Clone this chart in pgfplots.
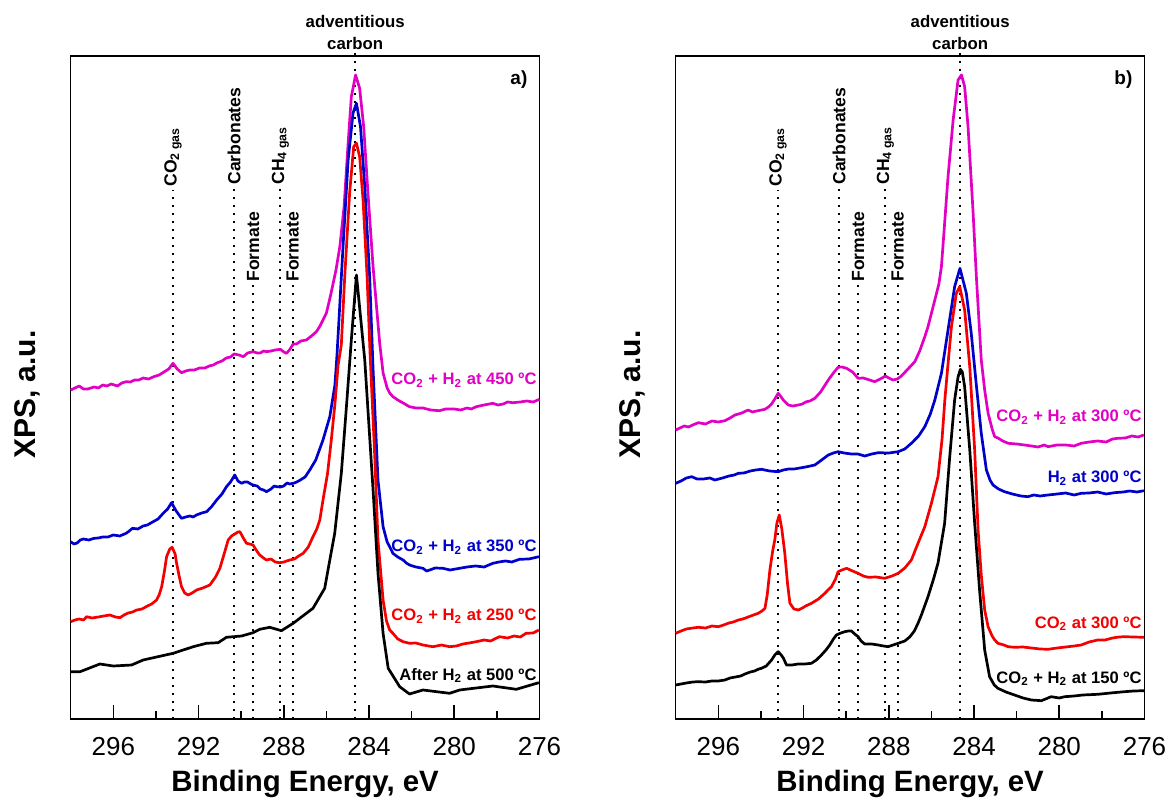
\documentclass[border=0pt]{standalone}
\usepackage{fontspec}
\setmainfont{Liberation Sans}
\usepackage{pgfplots}
\pgfplotsset{compat=1.18}
\definecolor{cmag}{RGB}{225,0,195}
\definecolor{cblue}{RGB}{0,0,205}
\definecolor{cred}{RGB}{245,0,0}

\pgfplotsset{
  xpspanel/.style={
    scale only axis, width=234.4pt, height=331.5pt,
    x dir=reverse, xmin=276, xmax=298, ymin=0, ymax=663,
    xtick={296,292,288,284,280,276}, minor xtick={294,290,286,282,278},
    ytick=\empty, tick align=inside, xtick pos=bottom,
    major tick length=7pt, minor tick length=4pt,
    every tick/.style={black, line width=0.8pt},
    axis line style={line width=0.6pt},
    /pgf/number format/assume math mode=true,
    xticklabel style={font=\fontsize{13}{15}\selectfont, yshift=-5.5pt},
    xlabel={\textbf{Binding Energy, eV}},
    ylabel={\textbf{XPS, a.u.}},
    xlabel style={font=\fontsize{14.7}{17}\selectfont, at={(axis description cs:0.5,-0.1095)}, anchor=base},
    ylabel style={font=\fontsize{15}{17}\selectfont, at={(axis description cs:-0.076,0.489)}, anchor=base},
    clip=false,
    every axis plot/.append style={line width=1.35pt, no marks, line join=round},
  },
}
\tikzset{
  pkline/.style={black, line width=0.9pt, dash pattern=on 1pt off 3pt},
  pklabel/.style={rotate=90, anchor=west, inner sep=0pt, font=\bfseries\fontsize{8.8}{10}\selectfont},
  crvlabel/.style={anchor=base east, inner sep=0pt, font=\bfseries\fontsize{8.3}{10}\selectfont},
}

\newcommand{\peakmarks}{%
  \draw[pkline] (axis cs:293.2,0) -- (axis cs:293.2,529);
  \draw[pkline] (axis cs:290.33,0) -- (axis cs:290.33,530);
  \draw[pkline] (axis cs:289.44,0) -- (axis cs:289.44,434);
  \draw[pkline] (axis cs:288.16,0) -- (axis cs:288.16,530);
  \draw[pkline] (axis cs:287.58,0) -- (axis cs:287.58,434);
  \draw[pkline] (axis cs:284.65,0) -- (axis cs:284.65,667);
  \node[pklabel] at (axis cs:293.2,532) {CO\textsubscript{2 gas}};
  \node[pklabel] at (axis cs:290.33,534) {Carbonates};
  \node[pklabel] at (axis cs:289.44,437) {Formate};
  \node[pklabel] at (axis cs:288.16,534) {CH\textsubscript{4 gas}};
  \node[pklabel] at (axis cs:287.58,437) {Formate};
  \node[anchor=base, inner sep=0pt, font=\bfseries\fontsize{8.4}{10}\selectfont] at ([yshift=3pt]axis cs:284.65,663) {carbon};
  \node[anchor=base, inner sep=0pt, font=\bfseries\fontsize{8.4}{10}\selectfont] at ([yshift=14pt]axis cs:284.65,663) {adventitious};
}

\begin{document}
\begin{tikzpicture}
\path[use as bounding box] (0,0) rectangle (583pt,398.5pt);

% ---------------- panel a ----------------
\begin{axis}[xpspanel, at={(35.35pt,39pt)}, anchor=south west]
\peakmarks
\addplot[cmag] coordinates {(298.0,329) (297.8,331) (297.6,333) (297.4,330) (297.2,330) (296.9,332) (296.7,331) (296.5,334) (296.3,333) (296.1,335) (295.8,333) (295.6,336) (295.4,337.3) (295.2,337) (295.0,339) (294.8,339) (294.6,341) (294.35,340) (294.1,342.3) (293.85,344) (293.6,347.3) (293.4,350) (293.2,355.7) (293.0,350) (292.8,346.3) (292.6,348) (292.4,349) (292.2,349) (291.95,351) (291.7,351) (291.5,353) (291.3,354) (291.15,356) (290.9,358) (290.7,361) (290.5,362) (290.33,365) (290.1,364) (289.9,362.3) (289.7,366) (289.44,367.3) (289.25,366) (289.1,366) (288.95,368) (288.8,367.3) (288.6,368) (288.4,369) (288.16,369.7) (288.0,367) (287.87,365.7) (287.7,370) (287.56,375) (287.4,375) (287.2,378) (286.94,379) (286.7,383) (286.47,387.3) (286.3,393) (286.16,399) (286.0,406) (285.8,424) (285.55,449) (285.37,472.3) (285.17,512.3) (284.98,576) (284.83,622.3) (284.63,644) (284.44,630.7) (284.25,592.3) (284.05,526) (283.81,452.3) (283.5,376) (283.34,346) (283.15,331) (283.03,326) (282.88,322.3) (282.65,319) (282.4,316) (282.1,312.3) (281.8,311) (281.47,311) (281.1,309) (280.7,308.3) (280.4,310) (280.0,310) (279.7,309) (279.4,311) (279.2,310) (278.97,312.3) (278.6,314) (278.19,315.7) (277.95,314) (277.7,315) (277.5,317) (277.25,316.3) (276.9,317) (276.6,318) (276.3,317) (276.0,319.7)};
\addplot[cblue] coordinates {(298.0,177.3) (297.85,175) (297.7,176) (297.55,179) (297.4,180) (297.15,179) (296.9,180.7) (296.7,181) (296.5,182) (296.25,182) (296.0,184) (295.7,183) (295.4,185.7) (295.25,188) (295.1,190.7) (294.85,190) (294.6,193) (294.4,194) (294.13,197.3) (293.9,200) (293.66,205.7) (293.45,210) (293.27,216.3) (293.05,208) (292.8,200.7) (292.6,202) (292.4,203) (292.25,202) (292.1,204) (291.85,206) (291.62,207.3) (291.4,212) (291.15,219) (290.9,225) (290.69,232.3) (290.5,237) (290.3,244) (290.15,238) (289.98,235.7) (289.85,237) (289.7,237) (289.55,235) (289.44,234) (289.25,233) (289.1,230) (288.95,229) (288.81,227.3) (288.6,230) (288.45,233) (288.34,232.3) (288.15,232) (288.0,233) (287.85,236) (287.72,235) (287.5,236) (287.3,238) (287.0,242) (286.78,249) (286.5,259) (286.16,279) (285.84,302.3) (285.6,334) (285.5,365) (285.22,472.3) (284.98,559) (284.75,606) (284.59,615.7) (284.4,592.3) (284.2,532.3) (283.97,442.3) (283.81,350) (283.58,239) (283.34,192.3) (283.15,177) (283.03,172.3) (282.88,165.7) (282.65,162) (282.4,159) (282.25,156) (282.1,154) (281.8,152) (281.47,150.7) (281.3,148) (281.15,149) (280.9,151) (280.53,150.7) (280.2,149) (279.75,150.7) (279.4,152) (279.0,153) (278.6,152) (278.19,155.7) (277.9,157) (277.6,158) (277.3,157) (276.94,159.7) (276.5,160) (276.03,162.3)};
\addplot[cred] coordinates {(298.0,97.3) (297.8,99) (297.6,100) (297.4,99) (297.25,102.3) (297.0,101) (296.7,102) (296.45,103) (296.16,104) (295.9,102) (295.69,101.3) (295.5,104) (295.3,106) (295.1,107) (294.9,109) (294.65,110) (294.4,113) (294.2,115) (293.97,119) (293.85,124) (293.73,132.3) (293.6,148) (293.5,162.3) (293.35,170) (293.24,171.7) (293.1,165) (293.03,155.7) (292.9,142) (292.8,132.3) (292.65,126) (292.49,124) (292.3,126) (292.09,129) (291.8,131) (291.47,134) (291.2,142) (291.0,150.7) (290.8,165) (290.61,179) (290.45,183) (290.3,185) (290.15,187) (290.06,187.3) (289.9,181) (289.75,175.7) (289.6,175) (289.44,174) (289.3,169) (289.13,164) (288.95,161) (288.81,159) (288.6,160) (288.4,157) (288.19,156.3) (288.0,157) (287.72,159) (287.5,160) (287.3,163) (287.09,165.7) (286.85,172) (286.63,182.3) (286.45,190) (286.31,199) (286.16,219) (285.95,245) (285.77,279) (285.6,315) (285.45,354) (285.3,374) (285.14,442.3) (284.91,526) (284.72,572.3) (284.59,575.7) (284.44,562.3) (284.28,519) (284.09,442.3) (283.95,365) (283.73,262.3) (283.58,179) (283.34,119) (283.18,98) (283.03,89) (282.88,85.7) (282.65,80) (282.4,77.3) (282.1,75.7) (281.8,76) (281.47,74) (281.2,73) (281.0,72.3) (280.6,74) (280.22,72.3) (279.9,73) (279.6,75) (279.3,76) (278.97,77.3) (278.6,79) (278.3,78) (277.88,82.3) (277.5,81) (277.2,83) (276.9,82) (276.63,85.7) (276.3,86) (276.03,89)};
\addplot[black] coordinates {(298.0,47.3) (297.56,47.3) (296.63,55) (296.0,53) (295.14,54) (294.6,59) (293.19,65.7) (292.25,72.3) (291.63,75.7) (291.08,76.3) (290.69,81.7) (289.98,83) (289.44,86.3) (289.13,89.7) (288.66,91.7) (288.11,88.3) (287.56,95.7) (286.63,110.7) (286.08,130.7) (285.84,159) (285.61,185.7) (285.3,245.7) (285.06,312.3) (284.83,379) (284.59,444) (284.2,359) (283.81,229) (283.58,146) (283.34,85.7) (283.1,50.7) (282.56,32.3) (282.1,25) (281.47,29) (280.22,25.7) (279.75,29) (278.19,33) (277.09,29.7) (276.03,36.3)};
\node[crvlabel, text=cmag] at (axis cs:276.12,334) {CO\textsubscript{2} + H\textsubscript{2} at 450 ºC};
\node[crvlabel, text=cblue] at (axis cs:276.12,167.3) {CO\textsubscript{2} + H\textsubscript{2} at 350 ºC};
\node[crvlabel, text=cred] at (axis cs:276.12,98) {CO\textsubscript{2} + H\textsubscript{2} at 250 ºC};
\node[crvlabel, text=black] at (axis cs:276.12,39) {After H\textsubscript{2} at 500 ºC};
\node[anchor=base east, inner sep=0pt, font=\bfseries\fontsize{9.5}{11}\selectfont] at (axis cs:276.55,634) {a)};
\end{axis}

% ---------------- panel b ----------------
\begin{axis}[xpspanel, at={(337.85pt,39pt)}, anchor=south west]
\peakmarks
\addplot[cmag] coordinates {(298.0,289) (297.8,291) (297.6,293) (297.4,292) (297.2,294) (296.94,296.3) (296.6,295) (296.3,298) (296.0,297) (295.69,298.3) (295.45,301) (295.22,304) (294.9,306) (294.6,309) (294.4,307) (294.2,308) (293.81,309.7) (293.65,312) (293.5,315) (293.35,320) (293.19,325.7) (293.05,322) (292.95,319) (292.72,314) (292.5,313) (292.25,314) (292.05,315) (291.9,317) (291.7,318) (291.47,320.7) (291.2,327) (290.84,339) (290.6,346) (290.38,351.7) (290.2,352) (289.98,350.7) (289.7,347) (289.44,340.7) (289.2,341) (288.9,339) (288.66,337.3) (288.4,340) (288.16,343) (288.0,341) (287.8,339) (287.6,340) (287.41,343) (287.1,350) (286.78,357.3) (286.55,368) (286.31,382.3) (286.16,392.3) (285.84,419) (285.65,435) (285.53,452.3) (285.46,472.3) (285.22,542.3) (284.98,599) (284.75,639) (284.59,644) (284.44,632.3) (284.28,592.3) (284.05,509) (283.89,442.3) (283.66,359) (283.5,329) (283.34,305.7) (283.15,290) (283.03,282.3) (282.88,281) (282.65,278) (282.4,275.7) (282.0,275) (281.63,274) (281.3,273) (281.0,272) (280.7,274) (280.53,272.3) (280.1,274) (279.7,274) (279.3,273) (278.97,275.7) (278.6,277) (278.2,278) (277.8,277) (277.5,280) (277.25,280.7) (276.9,281) (276.6,283) (276.3,282) (276.03,284)};
\addplot[cblue] coordinates {(298.0,235.7) (297.75,238) (297.5,241) (297.25,242.3) (297.0,240) (296.7,240) (296.4,241) (296.16,239) (295.8,241) (295.5,243) (295.25,244) (295.06,245.7) (294.8,246) (294.5,248) (294.25,249) (293.97,249.7) (293.6,248) (293.19,247.3) (292.95,249) (292.7,250) (292.45,250) (292.25,250.7) (291.9,252) (291.47,254) (291.15,259) (290.84,264) (290.6,266) (290.38,267.3) (290.1,266) (289.75,265) (289.45,265) (289.13,263) (288.8,265) (288.5,266.3) (288.0,266) (287.56,267.3) (287.25,270) (286.94,275.7) (286.6,283) (286.31,292.3) (286.05,305) (285.84,319) (285.53,345.7) (285.22,389) (284.91,432.3) (284.66,450.7) (284.36,425.7) (284.13,385.7) (283.9,335.7) (283.66,285.7) (283.42,249) (283.25,239) (283.11,234) (282.85,230) (282.57,227.3) (282.2,225) (281.8,223) (281.47,222.3) (281.2,224) (280.9,223) (280.53,224) (280.1,225) (279.7,226) (279.3,224) (278.97,225.7) (278.6,226) (278.2,227) (277.8,225) (277.41,226.3) (277.0,227) (276.7,228) (276.35,227) (276.03,228.3)};
\addplot[cred] coordinates {(298.0,85.7) (297.75,88) (297.5,90) (297.2,91) (296.94,91.7) (296.6,91) (296.3,93) (296.0,92.3) (295.75,94) (295.5,96) (295.3,97) (295.06,99) (294.85,100) (294.6,102) (294.35,104) (294.13,105.7) (293.95,108) (293.81,110.7) (293.7,125) (293.58,149) (293.45,168) (293.35,179) (293.25,196) (293.14,204) (293.02,190) (292.88,165.7) (292.75,135) (292.64,115.7) (292.45,110) (292.25,109) (292.05,111) (291.9,113) (291.63,115.7) (291.3,120) (291.0,125.7) (290.85,129) (290.69,132.3) (290.5,140) (290.38,147.3) (290.2,149) (289.98,150.7) (289.7,148) (289.44,145.7) (289.2,143) (288.97,141.7) (288.6,142) (288.19,140.7) (287.85,143) (287.56,145.7) (287.25,151) (286.94,159) (286.63,175.7) (286.31,192.3) (286.0,215.7) (285.69,242.3) (285.5,280) (285.37,319) (285.2,360) (285.06,392.3) (284.83,425.7) (284.67,432.3) (284.44,409) (284.2,352.3) (283.97,269) (283.81,189) (283.66,144) (283.5,109) (283.34,92.3) (283.15,83) (283.03,79) (282.88,75.7) (282.6,74) (282.4,72.3) (282.1,71.7) (281.7,72) (281.3,71) (280.9,70) (280.53,69.7) (280.1,71) (279.7,72) (279.3,73) (278.97,74) (278.6,77) (278.19,79) (277.85,79) (277.5,81) (277.2,82) (276.94,82.3) (276.5,82) (276.03,81.7)};
\addplot[black] coordinates {(298.0,34) (297.75,35) (297.5,36) (297.2,37) (296.94,37.3) (296.6,37) (296.3,38) (296.0,38) (295.69,39) (295.45,41) (295.2,42) (294.95,43) (294.75,45) (294.5,47) (294.3,48) (294.1,50) (293.97,50.7) (293.75,53) (293.5,59) (293.35,64) (293.19,67.3) (293.05,64) (292.95,61) (292.8,54) (292.55,54) (292.25,55) (291.95,55) (291.63,55.7) (291.4,59) (291.16,64) (290.95,69) (290.77,74) (290.6,80) (290.46,84) (290.25,86) (290.06,87.3) (289.9,88) (289.75,88) (289.6,85) (289.44,82.3) (289.3,78) (289.13,75) (288.8,75) (288.5,74) (288.25,73) (288.03,72.3) (287.8,74) (287.56,75.7) (287.25,78) (287.02,82) (286.8,88) (286.63,95.7) (286.47,104) (286.16,122.3) (285.9,140) (285.69,156) (285.38,195.7) (285.14,262.3) (284.91,319) (284.75,342) (284.64,349.7) (284.55,347) (284.44,332.3) (284.2,269) (283.97,195.7) (283.74,129) (283.5,69) (283.27,42.3) (283.05,34) (282.88,30.7) (282.5,27) (282.1,24) (281.7,21) (281.31,19) (280.84,18.3) (280.38,22.3) (280.0,21) (279.75,22.3) (279.3,23) (278.9,24) (278.19,24.7) (277.6,26) (276.94,27.3) (276.5,28) (276.03,28.3)};
\node[crvlabel, text=cmag] at (axis cs:276.12,297.3) {CO\textsubscript{2} + H\textsubscript{2} at 300 ºC};
\node[crvlabel, text=cblue] at (axis cs:276.12,236.3) {H\textsubscript{2} at 300 ºC};
\node[crvlabel, text=cred] at (axis cs:276.12,90.7) {CO\textsubscript{2} at 300 ºC};
\node[crvlabel, text=black] at (axis cs:276.12,35.7) {CO\textsubscript{2} + H\textsubscript{2} at 150 ºC};
\node[anchor=base east, inner sep=0pt, font=\bfseries\fontsize{9.5}{11}\selectfont] at (axis cs:276.55,634) {b)};
\end{axis}
\end{tikzpicture}
\end{document}
